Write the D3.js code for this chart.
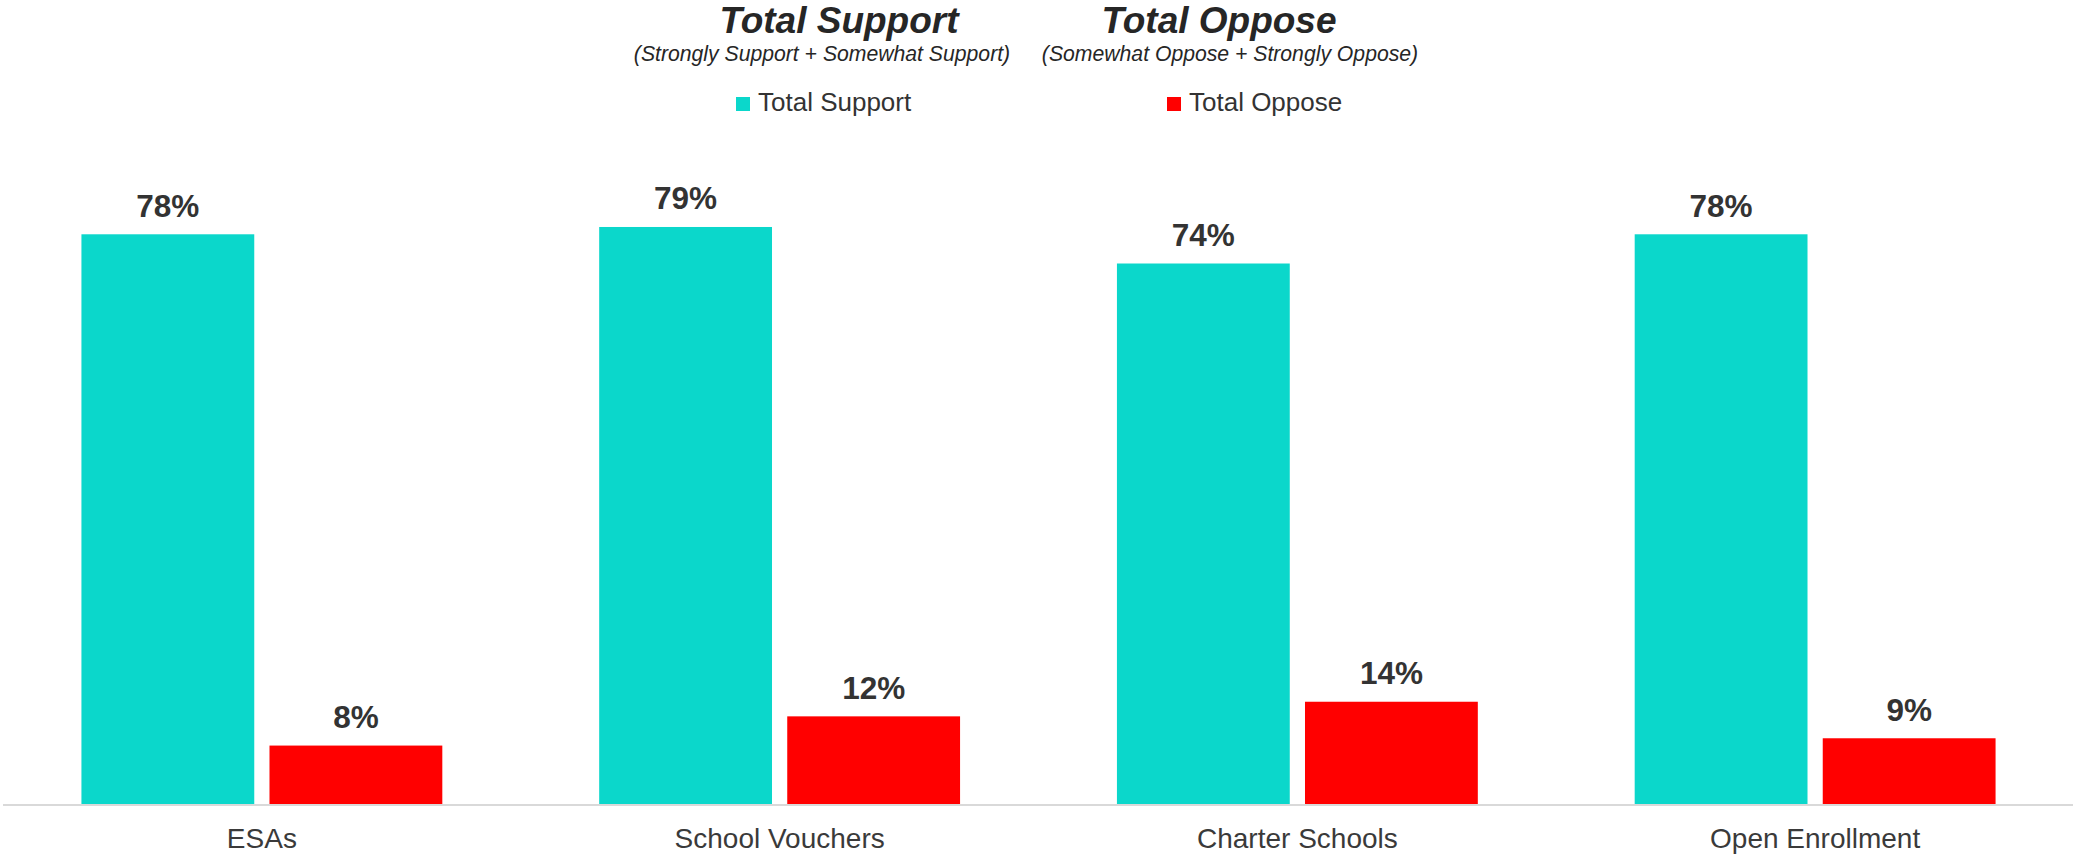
<!DOCTYPE html>
<html>
<head>
<meta charset="utf-8">
<script src="https://cdn.jsdelivr.net/npm/d3@7"></script>
<style>
  html, body { margin: 0; padding: 0; background: #ffffff; }
  svg { display: block; font-family: Arial, "Liberation Sans", sans-serif; }
</style>
</head>
<body>
<svg id="chart" width="2073" height="855"></svg>
<script>
// School choice program support vs. opposition (percent of respondents)
const categories = ["ESAs", "School Vouchers", "Charter Schools", "Open Enrollment"];
const seriesNames = ["Total Support", "Total Oppose"];
const supportValues = [78, 79, 74, 78];
const opposeValues = [8, 12, 14, 9];
const seriesColors = ["#0BD7CB", "#FF0000"];
const headerTitles = ["Total Support", "Total Oppose"];
const headerNotes = ["(Strongly Support + Somewhat Support)", "(Somewhat Oppose + Strongly Oppose)"];

const rows = categories.map((c, i) => ({
  category: c,
  values: [
    { series: seriesNames[0], value: supportValues[i] },
    { series: seriesNames[1], value: opposeValues[i] }
  ]
}));

const svg = d3.select("#chart");
const W = 2073;
const baseY = 804;

const x0 = d3.scaleBand()
  .domain(categories)
  .range([3, 2074])
  .paddingInner(0.303)
  .paddingOuter(0.1515);

const x1 = d3.scaleBand()
  .domain(seriesNames)
  .range([0, x0.bandwidth()])
  .paddingInner(0.081)
  .paddingOuter(0);

const y = d3.scaleLinear()
  .domain([0, 100])
  .range([baseY, baseY - 730.4]);

const color = d3.scaleOrdinal().domain(seriesNames).range(seriesColors);

// Bars
const groups = svg.append("g").selectAll("g")
  .data(rows)
  .join("g")
  .attr("transform", d => `translate(${x0(d.category)},0)`);

groups.selectAll("rect")
  .data(d => d.values)
  .join("rect")
  .attr("x", d => x1(d.series))
  .attr("y", d => y(d.value))
  .attr("width", x1.bandwidth())
  .attr("height", d => y(0) - y(d.value))
  .attr("fill", d => color(d.series));

// Value labels
groups.selectAll("text.value")
  .data(d => d.values)
  .join("text")
  .attr("class", "value")
  .attr("x", d => x1(d.series) + x1.bandwidth() / 2)
  .attr("y", d => y(d.value) - 17.5)
  .attr("text-anchor", "middle")
  .attr("font-size", 31.5)
  .attr("font-weight", "bold")
  .attr("fill", "#333333")
  .text(d => d.value + "%");

// Category axis
const xAxis = d3.axisBottom(x0).tickSize(0).tickPadding(0);
const axisG = svg.append("g")
  .attr("transform", `translate(0,${baseY + 1})`)
  .call(xAxis);
axisG.select(".domain").remove();
axisG.selectAll("text")
  .attr("y", 43)
  .attr("dy", null)
  .attr("font-size", 28)
  .attr("font-family", "Arial, 'Liberation Sans', sans-serif")
  .attr("fill", "#3a3a3a");

svg.append("line")
  .attr("x1", 3).attr("x2", W)
  .attr("y1", baseY + 1).attr("y2", baseY + 1)
  .attr("stroke", "#d9d9d9")
  .attr("stroke-width", 2);

// Header block: titles and definitions
const headerTitleX = [839, 1219];
const headerNoteX = [822, 1230];
svg.append("g").selectAll("text")
  .data(headerTitles)
  .join("text")
  .attr("x", (d, i) => headerTitleX[i])
  .attr("y", 33)
  .attr("text-anchor", "middle")
  .attr("font-size", 37)
  .attr("font-weight", "bold")
  .attr("font-style", "italic")
  .attr("fill", "#262626")
  .text(d => d);

svg.append("g").selectAll("text")
  .data(headerNotes)
  .join("text")
  .attr("x", (d, i) => headerNoteX[i])
  .attr("y", 61)
  .attr("text-anchor", "middle")
  .attr("font-size", 21.2)
  .attr("font-style", "italic")
  .attr("fill", "#262626")
  .text(d => d);

// Legend
const legendX = [736, 1167];
const legend = svg.append("g").selectAll("g")
  .data(seriesNames)
  .join("g")
  .attr("transform", (d, i) => `translate(${legendX[i]},97)`);
legend.append("rect")
  .attr("width", 14).attr("height", 14)
  .attr("fill", d => color(d));
legend.append("text")
  .attr("x", 22)
  .attr("y", 14)
  .attr("font-size", 26)
  .attr("fill", "#333333")
  .text(d => d);
</script>
</body>
</html>
